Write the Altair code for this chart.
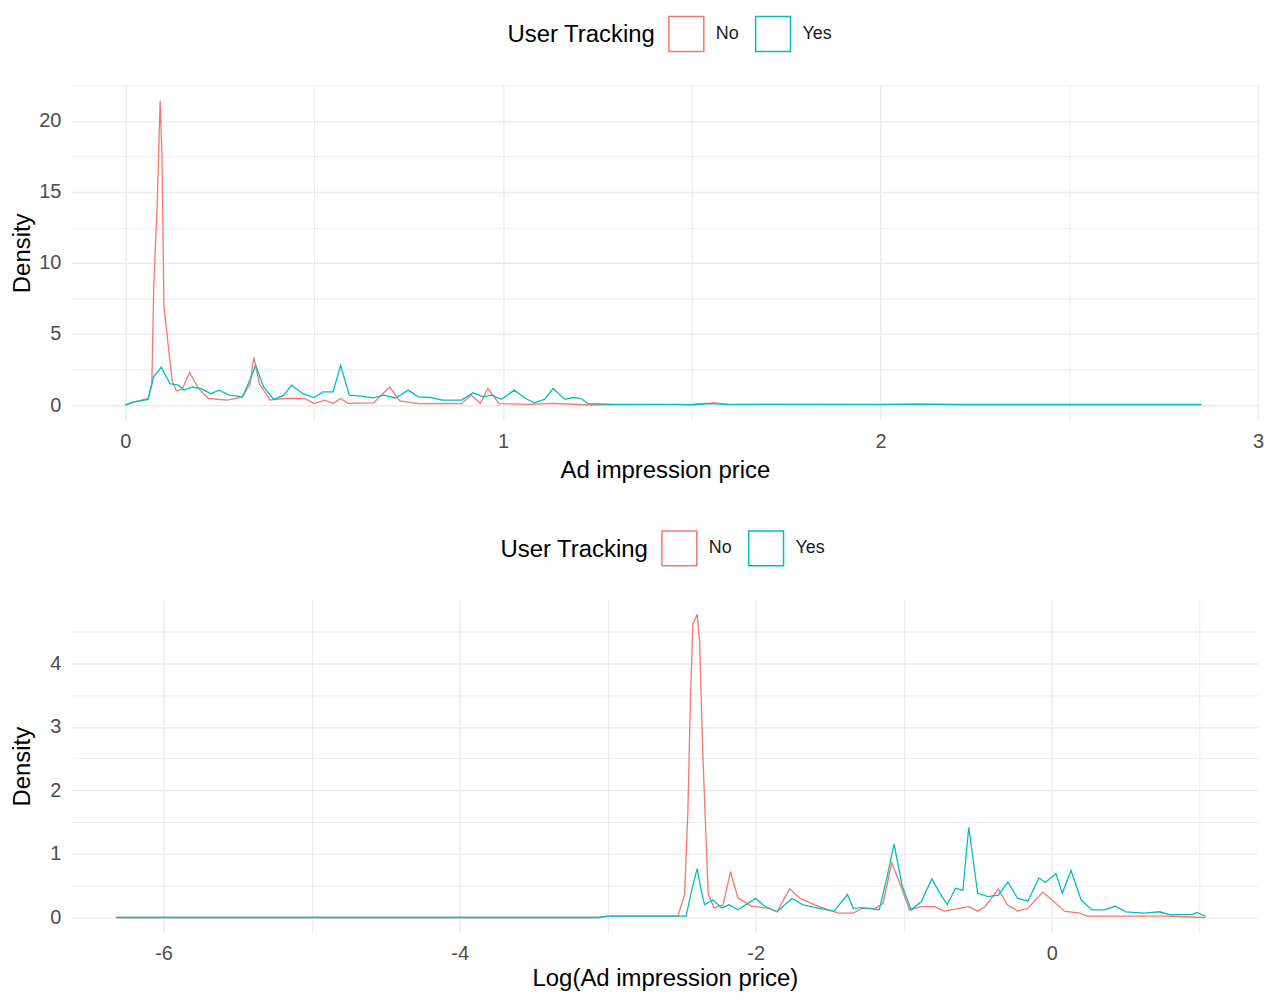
import altair as alt
import pandas as pd

# ---- Top panel: Ad impression price ----
top_no_x = [0, 0.02, 0.06, 0.07, 0.075, 0.084, 0.092, 0.097, 0.102, 0.113, 0.124, 0.135, 0.15, 0.17, 0.194,
            0.22, 0.27, 0.31, 0.33, 0.34, 0.355, 0.383, 0.42, 0.474, 0.5, 0.528, 0.55, 0.57, 0.59, 0.657,
            0.70, 0.727, 0.776, 0.89, 0.916, 0.94, 0.96, 0.99, 1.07, 1.13, 1.22, 1.5, 1.56, 1.6, 2.0, 2.1,
            2.2, 2.85]
top_no_y = [0, 0.2, 0.45, 1.5, 8.2, 14, 21.4, 17.5, 7, 4.3, 1.7, 1.0, 1.1, 2.3, 1.15,
            0.46, 0.35, 0.58, 1.5, 3.35, 1.5, 0.35, 0.46, 0.46, 0.1, 0.35, 0.1, 0.46, 0.12, 0.15,
            1.27, 0.3, 0.1, 0.1, 0.7, 0.12, 1.16, 0.1, 0.05, 0.12, 0.02, 0.05, 0.15, 0.05, 0.03, 0.08,
            0.02, 0.02]
top_yes_x = [0, 0.02, 0.06, 0.075, 0.095, 0.118, 0.14, 0.156, 0.178, 0.2, 0.226, 0.248, 0.275, 0.31, 0.334,
             0.345, 0.366, 0.393, 0.42, 0.44, 0.47, 0.5, 0.523, 0.55, 0.57, 0.593, 0.625, 0.657, 0.684,
             0.716, 0.749, 0.776, 0.808, 0.84, 0.89, 0.921, 0.948, 0.97, 0.996, 1.03, 1.06, 1.083, 1.11,
             1.133, 1.164, 1.185, 1.207, 1.225, 1.3, 1.45, 1.5, 1.55, 1.6, 1.75, 2.85]
top_yes_y = [0, 0.2, 0.4, 2.0, 2.67, 1.5, 1.4, 1.05, 1.27, 1.16, 0.8, 1.05, 0.7, 0.58, 2.0,
             2.8, 1.27, 0.4, 0.7, 1.4, 0.8, 0.53, 0.93, 0.93, 2.8, 0.7, 0.63, 0.5, 0.7,
             0.5, 1.05, 0.58, 0.53, 0.35, 0.35, 0.86, 0.58, 0.7, 0.4, 1.05, 0.46, 0.15, 0.4,
             1.16, 0.4, 0.53, 0.46, 0.1, 0.05, 0.05, 0.02, 0.1, 0.03, 0.05, 0.05]

# ---- Bottom panel: Log(Ad impression price) ----
bot_no_x = [-6.32, -3.06, -3.0, -2.525, -2.48, -2.458, -2.44, -2.424, -2.395, -2.379, -2.357, -2.335, -2.32,
            -2.28, -2.22, -2.17, -2.12, -2.03, -1.91, -1.856, -1.77, -1.70, -1.6, -1.51, -1.44, -1.34, -1.28,
            -1.19, -1.14, -1.08, -1.02, -0.96, -0.88, -0.79, -0.73, -0.65, -0.56, -0.5, -0.45, -0.36, -0.30,
            -0.23, -0.16, -0.06, 0.014, 0.086, 0.187, 0.245, 0.53, 0.78, 1.04]
bot_no_y = [0, 0, 0.02, 0.02, 0.36, 1.65, 3.47, 4.61, 4.77, 4.36, 2.59, 1.24, 0.36,
            0.15, 0.2, 0.72, 0.31, 0.18, 0.145, 0.09, 0.45, 0.3, 0.2, 0.12, 0.07, 0.07, 0.145,
            0.145, 0.22, 0.86, 0.5, 0.12, 0.17, 0.17, 0.1, 0.13, 0.17, 0.1, 0.17, 0.45, 0.2,
            0.1, 0.145, 0.4, 0.25, 0.1, 0.07, 0.02, 0.02, 0.02, 0.0]
bot_yes_x = [-6.32, -3.06, -3.0, -2.47, -2.43, -2.395, -2.37, -2.345, -2.29, -2.23, -2.18, -2.12, -2.0,
             -1.94, -1.856, -1.755, -1.68, -1.57, -1.47, -1.38, -1.34, -1.28, -1.165, -1.11, -1.065, -1.01,
             -0.95, -0.88, -0.81, -0.76, -0.705, -0.65, -0.6, -0.56, -0.5, -0.43, -0.36, -0.296, -0.23,
             -0.16, -0.086, -0.043, 0.029, 0.072, 0.13, 0.2, 0.273, 0.36, 0.43, 0.5, 0.62, 0.73, 0.8, 0.95,
             0.98, 1.04]
bot_yes_y = [0, 0, 0.02, 0.02, 0.45, 0.77, 0.45, 0.2, 0.28, 0.15, 0.2, 0.12, 0.3,
             0.18, 0.09, 0.3, 0.2, 0.145, 0.1, 0.36, 0.145, 0.155, 0.12, 0.66, 1.16, 0.5,
             0.12, 0.25, 0.61, 0.4, 0.2, 0.46, 0.43, 1.42, 0.38, 0.33, 0.35, 0.56, 0.3,
             0.26, 0.62, 0.55, 0.69, 0.38, 0.74, 0.27, 0.12, 0.12, 0.18, 0.09, 0.07, 0.09, 0.04, 0.05,
             0.08, 0.02]

groups = ["No", "Yes"]
colors = ["#F8766D", "#00BFC4"]


def frame(xs_no, ys_no, xs_yes, ys_yes):
    a = pd.DataFrame({"x": xs_no, "y": ys_no, "g": "No", "o": range(len(xs_no))})
    b = pd.DataFrame({"x": xs_yes, "y": ys_yes, "g": "Yes", "o": range(len(xs_yes))})
    return pd.concat([a, b], ignore_index=True)


df_top = frame(top_no_x, top_no_y, top_yes_x, top_yes_y)
df_bot = frame(bot_no_x, bot_no_y, bot_yes_x, bot_yes_y)

LABEL_COLOR = "#4D4D4D"
FONT = "Liberation Sans"


def legend(x):
    return alt.Legend(
        title="User Tracking", orient="none", legendX=x, legendY=-70,
        direction="horizontal", titleOrient="left",
        symbolType="square", symbolSize=1225, symbolStrokeWidth=1.5, symbolFillColor="transparent",
        labelFontSize=18, titleFontSize=24, titleFontWeight="normal", titleColor="black",
        labelColor="#1A1A1A", columnPadding=13, labelOffset=11, titlePadding=12,
        labelFont=FONT, titleFont=FONT,
    )


def axis(title, values, major_expr, label_pad, title_pad, **kw):
    return alt.Axis(
        title=title, values=values, labelExpr=f"{major_expr} ? '' + datum.value : ''",
        ticks=False, domain=False, grid=True, gridColor="#EBEBEB",
        gridWidth={"condition": {"test": major_expr, "value": 1.4}, "value": 1.0},
        labelFontSize=20, labelColor=LABEL_COLOR, titleFontSize=24, titleFontWeight="normal",
        titleColor="black", labelPadding=label_pad, titlePadding=title_pad, labelFont=FONT,
        titleFont=FONT, labelFlush=False, **kw,
    )


top = alt.Chart(df_top).mark_line(strokeWidth=1.3).encode(
    x=alt.X("x:Q", scale=alt.Scale(domain=[-0.142, 3.0], nice=False, zero=False),
            axis=axis("Ad impression price", [0, 0.5, 1, 1.5, 2, 2.5, 3], "datum.value % 1 == 0", 11, 7)),
    y=alt.Y("y:Q", scale=alt.Scale(domain=[-1.07, 22.5], nice=False, zero=False),
            axis=axis("Density", [0, 2.5, 5, 7.5, 10, 12.5, 15, 17.5, 20, 22.5], "datum.value % 5 == 0",
                      11, 4, titleX=-37)),
    color=alt.Color("g:N", scale=alt.Scale(domain=groups, range=colors), legend=legend(437)),
    order="o:Q",
).properties(width=1190, height=336)

bot = alt.Chart(df_bot).mark_line(strokeWidth=1.3).encode(
    x=alt.X("x:Q", scale=alt.Scale(domain=[-6.62, 1.394], nice=False, zero=False),
            axis=axis("Log(Ad impression price)", [-6, -5, -4, -3, -2, -1, 0, 1], "datum.value % 2 == 0", 11, 3)),
    y=alt.Y("y:Q", scale=alt.Scale(domain=[-0.238, 5.0], nice=False, zero=False),
            axis=axis("Density", [0, 0.5, 1, 1.5, 2, 2.5, 3, 3.5, 4, 4.5], "datum.value % 1 == 0",
                      11, 4, titleX=-37)),
    color=alt.Color("g:N", scale=alt.Scale(domain=groups, range=colors), legend=legend(430)),
    order="o:Q",
).properties(width=1190, height=334)

chart = alt.vconcat(top, bot, spacing=48).resolve_scale(
    color="independent", x="independent", y="independent"
).resolve_legend(color="independent").properties(
    padding={"top": 6, "left": 3, "right": 0, "bottom": 0}
).configure(background="white", view=alt.ViewConfig(stroke="transparent", strokeWidth=0))

chart.save("out.html", embed_options={"renderer": "svg", "actions": False})
